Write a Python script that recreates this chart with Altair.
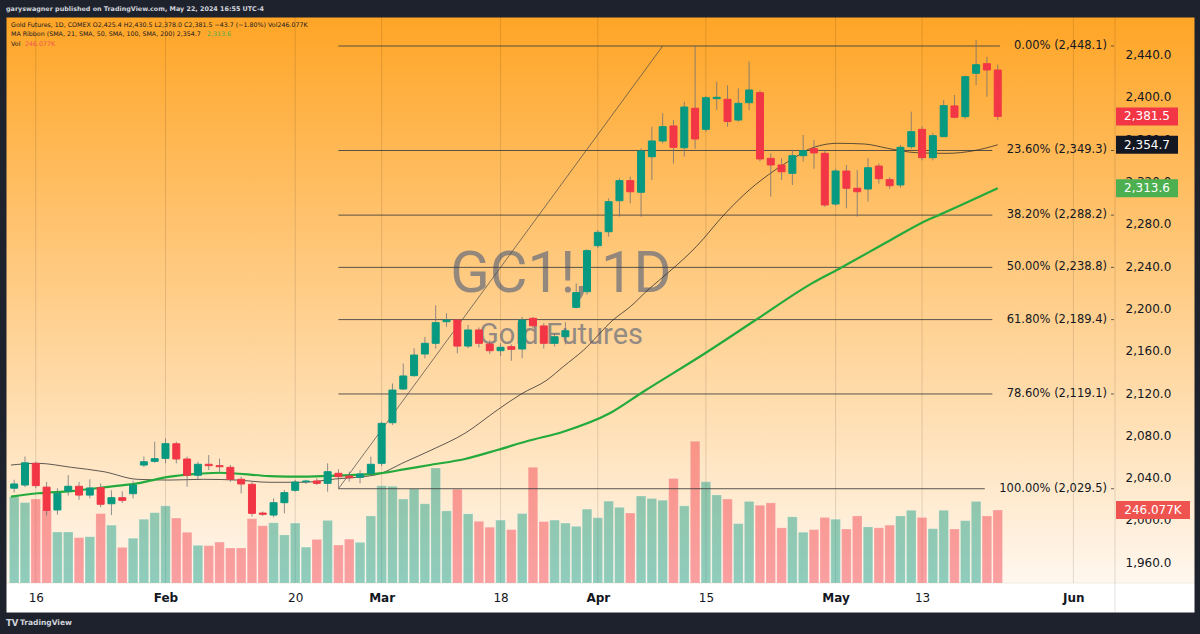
import altair as alt
import pandas as pd

# ---------------- data ----------------
idx = list(range(-2, 90))  # trading-day index, 0 = Jan 16 2024, 89 = May 22 2024
opens = [2030, 2033, 2053.5, 2031, 2009.4, 2027.3, 2031.8, 2023.5, 2030.5, 2015.3,
         2021, 2024.8, 2051.9, 2055.4, 2058.2, 2072, 2057.6, 2042.2, 2052.6, 2051.3,
         2049.7, 2038.4, 2033.7, 2006.5, 2004.6, 2016.3, 2028, 2036.1, 2036.8, 2034.6,
         2044.1, 2041.5, 2040.3, 2044.1, 2053.5, 2091.9, 2123.8, 2136.4, 2156.9, 2167,
         2187.4, 2189, 2164.4, 2179.6, 2166.3, 2160, 2163.8, 2161.6, 2190.6, 2183.4,
         2167, 2173.2, 2201, 2215.8, 2259.3, 2272.5, 2301.8, 2320.8, 2309.8, 2343.4,
         2358.3, 2372.5, 2351.9, 2389.2, 2369.3, 2398.3, 2397.7, 2378.1, 2394.5, 2404,
         2341.9, 2335.6, 2327.7, 2344.4, 2351, 2346.6, 2298.7, 2329.9, 2313.6, 2312.9,
         2334.6, 2321.7, 2316.7, 2352.9, 2369.3, 2342.5, 2362.4, 2391.4, 2381.3, 2422.3,
         2431.4, 2425.4]
highs = [2038, 2060, 2055, 2036, 2030, 2042.5, 2036, 2038.4, 2034.6, 2028,
         2027, 2037, 2060, 2074, 2077, 2074, 2059.8, 2055, 2061.4, 2058,
         2052, 2041, 2036, 2008, 2020.4, 2028.3, 2037.7, 2038, 2039.3, 2053.5,
         2048, 2045.6, 2047, 2059.8, 2093, 2129, 2148, 2162.3, 2173, 2203,
         2195.3, 2190, 2184.3, 2182, 2170, 2167, 2166, 2192, 2192, 2186,
         2176, 2187, 2223.7, 2256, 2274, 2304.1, 2323, 2324.5, 2351.4, 2371.8,
         2384.5, 2378, 2395.4, 2448.8, 2401, 2414.4, 2411, 2408, 2433.3, 2406,
         2346.6, 2342, 2350, 2364, 2359, 2350, 2332, 2335.6, 2330.8, 2342,
         2337, 2324, 2354.5, 2386, 2372, 2366, 2397, 2401.8, 2420, 2453.8,
         2438, 2430.5]
lows = [2026, 2031, 2030, 2004, 2005, 2023, 2019, 2020.4, 2012, 2004.6,
        2016, 2020.4, 2050, 2054, 2053.5, 2053.5, 2031.4, 2038.4, 2047.2, 2045.6,
        2036, 2025, 2003, 2003.7, 2002.4, 2006.2, 2026.7, 2034, 2033, 2026.7,
        2030, 2036.1, 2034.6, 2042.5, 2051, 2089.7, 2122.8, 2135.4, 2152.8, 2162,
        2182.7, 2157.5, 2162.3, 2163, 2157, 2155, 2150.5, 2152.8, 2181, 2162,
        2164, 2166, 2200, 2213, 2257, 2267.8, 2286.7, 2299.3, 2286.7, 2321.4,
        2356, 2337, 2343.4, 2351, 2367, 2387.6, 2371.8, 2376.5, 2387.6, 2339,
        2305.6, 2321.4, 2316.7, 2338.7, 2332, 2296, 2297, 2294.6, 2286.7, 2301,
        2318, 2313, 2314, 2351, 2340, 2340, 2362, 2379.7, 2379, 2411.2,
        2400, 2378.0]
closes = [2034, 2054, 2032.4, 2009, 2025.2, 2031.8, 2023.5, 2030.2, 2014.8, 2021,
          2018.5, 2033, 2055, 2057.9, 2072.1, 2057.6, 2042.2, 2052.6, 2051.3, 2050.3,
          2038.4, 2034, 2006.2, 2005.3, 2016.3, 2025.8, 2035.8, 2036.8, 2034.6, 2045.6,
          2040.9, 2039.9, 2043.4, 2052.6, 2091.3, 2122.8, 2136.1, 2155.9, 2167, 2186.5,
          2189, 2164.4, 2179.6, 2167, 2160, 2163.2, 2161.3, 2189, 2183.6, 2167,
          2173.2, 2178.9, 2214.9, 2254.6, 2271.9, 2300.9, 2320.8, 2310.3, 2348.8, 2358.3,
          2371.8, 2352.3, 2390.4, 2360.2, 2399.2, 2399.6, 2376.7, 2393.9, 2406.5, 2341.3,
          2335.6, 2329.2, 2344.4, 2349.1, 2347, 2297.8, 2329.9, 2313.6, 2310.3, 2333,
          2322.6, 2316, 2352.3, 2367.1, 2342.5, 2363.3, 2391.7, 2380.7, 2419.1, 2430.4,
          2425.4, 2381.5]
volume_k = [291, 271, 283, 246, 172, 172, 153, 156, 234, 195,
            120, 151, 215, 237, 260, 219, 171, 127, 126, 138,
            118, 118, 217, 193, 203, 162, 202, 121, 147, 211,
            128, 148, 137, 226, 328, 326, 283, 317, 267, 388,
            243, 316, 233, 208, 188, 212, 180, 234, 390, 207,
            212, 202, 191, 249, 220, 276, 255, 236, 293, 285,
            279, 352, 260, 478, 341, 297, 283, 200, 275, 262,
            270, 186, 223, 171, 180, 221, 215, 182, 226, 189,
            186, 195, 226, 245, 221, 183, 245, 182, 210, 275,
            226, 246.077]

sma21_idx = [-2.3, 0.2, 3.3, 6.3, 9.4, 12.4, 15.5, 18.6, 21.6, 24.7, 27.7, 31.4, 34.2,
             36.6, 39.7, 42.7, 44.9, 47.3, 48.8, 50.7, 53.4, 55.0, 56.8, 57.7, 61.1, 63.8,
             66.0, 68.4, 70.6, 71.5, 74.2, 76.7, 78.8, 81.5, 84.3, 86.8, 89.0]
sma21_val = [2051.9, 2053.5, 2049.7, 2045.6, 2038.4, 2037.7, 2038.4, 2037.7, 2035.6, 2035.6,
             2038.7, 2042.5, 2055.0, 2066.1, 2081.9, 2103.9, 2119.0, 2132.3, 2144.9, 2160.7,
             2189.0, 2201.6, 2219.0, 2226.8, 2258.3, 2289.9, 2311.9, 2330.8, 2345.0, 2350.4,
             2356.1, 2355.4, 2351.4, 2347.2, 2346.6, 2349.1, 2354.7]
sma50_idx = [-2.3, 0.2, 3.3, 6.3, 9.4, 12.4, 14.3, 17.0, 21.6, 24.7, 27.7, 32.0, 34.2,
             36.6, 39.7, 42.7, 45.5, 48.8, 53.1, 56.2, 62.0, 66.6, 71.8, 74.5, 79.1, 82.5,
             83.7, 89.0]
sma50_val = [2022.0, 2025.2, 2027.3, 2030.8, 2034.6, 2040.9, 2043.1, 2044.6, 2041.5, 2040.9,
             2041.8, 2044.3, 2048.1, 2052.2, 2057.6, 2066.1, 2074.6, 2083.4, 2100.8, 2121.2,
             2158.1, 2189.0, 2223.7, 2238.5, 2264.7, 2283.6, 2288.9, 2313.6]

fib_labels = ["0.00% (2,448.1)", "23.60% (2,349.3)", "38.20% (2,288.2)", "50.00% (2,238.8)",
              "61.80% (2,189.4)", "78.60% (2,119.1)", "100.00% (2,029.5)"]
fib_prices = [2448.1, 2349.3, 2288.2, 2238.8, 2189.4, 2119.1, 2029.5]
fib_start_idx = [28, 28, 28, 28, 28, 28, 28]
fib_end_idx = [89.2, 88.5, 88.5, 88.5, 88.5, 88.5, 87.8]

trend_idx = [28, 58]
trend_price = [2029.5, 2448.1]

tick_idx = [0, 12, 24, 32, 43, 52, 62, 74, 82, 96]
tick_text = ["16", "Feb", "20", "Mar", "18", "Apr", "15", "May", "13", "Jun"]
month_ticks = [12, 32, 52, 74, 96]
price_ticks = [1960, 2000, 2040, 2080, 2120, 2160, 2200, 2240, 2280, 2320, 2360, 2400, 2440]

last_labels = ["2,381.5", "2,354.7", "2,313.6"]
last_values = [2381.5, 2354.7, 2313.6]
last_colors = ["#f23645", "#131722", "#4caf50"]
vol_last = 246.077

# ---------------- layout ----------------
W, H = 1188, 595
X_DOM = [-2.294, 106.697]
Y_DOM = [1912.94, 2475.52]
V_DOM = [-97.75, 1907.9]
FONT = "DejaVu Sans"
INK = "#131722"

up_col, dn_col = "#089981", "#f23645"
candles = pd.DataFrame({"i": idx, "o": opens, "h": highs, "l": lows, "c": closes, "v": volume_k})
candles["body_color"] = [up_col if c >= o else dn_col for o, c in zip(opens, closes)]
candles["vol_color"] = ["rgba(8,153,129,0.45)" if c >= o else "rgba(242,54,69,0.45)"
                        for o, c in zip(opens, closes)]

fib = pd.DataFrame({"label": fib_labels, "p": fib_prices, "s": fib_start_idx, "e": fib_end_idx})
trend = pd.DataFrame({"i": trend_idx, "p": trend_price})
s21 = pd.DataFrame({"i": sma21_idx, "p": sma21_val})
s50 = pd.DataFrame({"i": sma50_idx, "p": sma50_val})
ticks = pd.DataFrame({"i": tick_idx})
last = pd.DataFrame({"t": last_labels, "p": last_values, "col": last_colors})
vlast = pd.DataFrame({"t": ["246.077K"], "v": [vol_last]})
one = pd.DataFrame({"a": [0]})

label_expr = "[" + ",".join("'%s'" % t for t in tick_text) + "][indexof([" + \
    ",".join(str(t) for t in tick_idx) + "], datum.value)]"
month_test = "indexof([" + ",".join(str(t) for t in month_ticks) + "], datum.value) >= 0"

x_axis = alt.Axis(values=tick_idx, labelExpr=label_expr, grid=False, ticks=False, domain=False,
                  labelPadding=-15, labelBaseline="middle", labelFontSize=12, labelColor=INK,
                  labelFont=FONT, labelOverlap=False, labelFlush=False, title=None,
                  labelFontWeight={"condition": {"test": month_test, "value": "bold"},
                                   "value": "normal"})
y_axis = alt.Axis(values=price_ticks, format=",.1f", orient="right", grid=False, ticks=False,
                  domain=False, labelAlign="left", labelPadding=-69, labelBaseline="middle",
                  labelFontSize=12, labelColor=INK, labelFont=FONT, labelOverlap=False,
                  title=None)


def XN(field):
    # every layer carries the same x axis definition so the shared axis is kept
    return alt.X(field, scale=alt.Scale(domain=X_DOM, nice=False, zero=False), axis=x_axis)


def Y(field, **kw):
    return alt.Y(field, scale=alt.Scale(domain=Y_DOM, nice=False, zero=False), **kw)


def YN(field):
    return Y(field, axis=None)


def VY(field):
    return alt.Y(field, scale=alt.Scale(domain=V_DOM, nice=False, zero=False), axis=None)


def txt(text, x, y, size, color, weight="normal", align="left", baseline="middle",
        font=FONT, opacity=1.0):
    return alt.Chart(one).mark_text(
        text=text, fontSize=size, color=color, fontWeight=weight, align=align,
        baseline=baseline, font=font, opacity=opacity
    ).encode(x=alt.value(x), y=alt.value(y))


# ---------------- layers ----------------
grid = alt.Chart(ticks).mark_rule(color="#000000", opacity=0.12, strokeWidth=1).encode(
    x=XN("i:Q"), y=alt.value(0), y2=alt.value(566))

wm1 = txt("GC1!, 1D", 555, 274.7, 58, "#6f727c", baseline="alphabetic", align="center",
          font="Roboto", opacity=0.75)
wm2 = txt("Gold Futures", 555, 326.5, 29, "#6f727c", baseline="alphabetic", align="center",
          font="Roboto", opacity=0.75)

vol = alt.Chart(candles).mark_bar(width=9.6, clip=True, stroke="#ffffff", strokeOpacity=0.35,
                                  strokeWidth=0.6).encode(
    x=XN("i:Q"), y=VY("v:Q"), color=alt.Color("vol_color:N", scale=None))

fib_lines = alt.Chart(fib).mark_rule(color="#3d3d3d", opacity=0.85, strokeWidth=1).encode(
    x=XN("s:Q"), x2="e:Q", y=YN("p:Q"))
fib_text = alt.Chart(fib).mark_text(align="right", baseline="middle", fontSize=11.5,
                                    font=FONT, color=INK).encode(
    x=alt.value(1101), y=YN("p:Q"), text="label:N")
fib_tick = alt.Chart(fib).mark_rule(color="#3d3d3d", opacity=0.8).encode(
    x=alt.value(1105), x2=alt.value(1108), y=YN("p:Q"))

trend_line = alt.Chart(trend).mark_line(color="#4a4a4a", strokeWidth=0.8, opacity=0.9).encode(
    x=XN("i:Q"), y=YN("p:Q"))

sma21 = alt.Chart(s21).mark_line(color="#2a2a2a", strokeWidth=0.9, opacity=0.85,
                                 interpolate="monotone", clip=True).encode(
    x=XN("i:Q"), y=YN("p:Q"))
sma50 = alt.Chart(s50).mark_line(color="#22ab3c", strokeWidth=2.2,
                                 interpolate="monotone", clip=True).encode(
    x=XN("i:Q"), y=YN("p:Q"))

wicks = alt.Chart(candles).mark_rule(color="#6b6e78", opacity=0.75, strokeWidth=1,
                                     clip=True).encode(
    x=XN("i:Q"), y=Y("l:Q", axis=y_axis), y2="h:Q")
bodies = alt.Chart(candles).mark_bar(width=7, strokeWidth=1, clip=True).encode(
    x=XN("i:Q"), y=YN("o:Q"), y2="c:Q",
    color=alt.Color("body_color:N", scale=None), stroke=alt.Stroke("body_color:N", scale=None))

sep_v = alt.Chart(one).mark_rule(color="#000000", opacity=0.12).encode(
    x=alt.value(1109), y=alt.value(0), y2=alt.value(595))
sep_h = alt.Chart(one).mark_rule(color="#000000", opacity=0.06).encode(
    x=alt.value(0), x2=alt.value(1188), y=alt.value(566))

boxes = alt.Chart(last).mark_tick(orient="horizontal", thickness=18, size=62, opacity=1).encode(
    x=alt.value(1141), y=YN("p:Q"), color=alt.Color("col:N", scale=None))
box_text = alt.Chart(last).mark_text(color="#ffffff", fontSize=12, font=FONT, align="center",
                                     baseline="middle").encode(
    x=alt.value(1141), y=YN("p:Q"), text="t:N")
vbox = alt.Chart(vlast).mark_tick(orient="horizontal", thickness=18, size=74,
                                  color="#ef5350", opacity=1).encode(
    x=alt.value(1147), y=VY("v:Q"))
vbox_text = alt.Chart(vlast).mark_text(color="#ffffff", fontSize=12, font=FONT, align="center",
                                       baseline="middle").encode(
    x=alt.value(1147), y=VY("v:Q"), text="t:N")

header = txt("garyswagner published on TradingView.com, May 22, 2024 16:55 UTC-4",
             0, -8.5, 6.4, "#d1d4dc", weight="bold")
leg1 = txt("Gold Futures, 1D, COMEX  O2,425.4  H2,430.5  L2,378.0  C2,381.5  \u221243.7 (\u22121.80%)  Vol246.077K",
           5, 8, 6.3, INK)
leg2 = txt("MA Ribbon (SMA, 21, SMA, 50, SMA, 100, SMA, 200)  2,354.7", 5, 17.3, 6.3, INK)
leg2g = txt("2,313.6", 201, 17.3, 6.3, "#4caf50")
leg3 = txt("Vol", 5, 26.7, 6.3, INK)
leg3r = txt("246.077K", 19, 26.7, 6.3, "#ef5350")
foot1 = txt("TV", 0, 606, 8.5, "#d1d4dc", weight="bold")
foot2 = txt("TradingView", 14, 606, 7.5, "#d1d4dc", weight="bold")

gradient = {"gradient": "linear", "x1": 0, "y1": 0, "x2": 0, "y2": 1,
            "stops": [{"offset": 0, "color": "#ffa526"},
                      {"offset": 0.951, "color": "#fff7ee"},
                      {"offset": 0.9515, "color": "#ffffff"},
                      {"offset": 1, "color": "#ffffff"}]}

chart = alt.layer(
    wm1, wm2, grid, vol, fib_lines, fib_text, fib_tick, trend_line, sma21, sma50,
    wicks, bodies, sep_v, sep_h, boxes, box_text, vbox, vbox_text,
    header, leg1, leg2, leg2g, leg3, leg3r, foot1, foot2
).resolve_scale(y="independent").properties(
    width=W, height=H,
    autosize=alt.AutoSizeParams(type="none"),
    padding={"left": 6, "top": 17, "right": 6, "bottom": 22},
    background="#1e222d",
).configure_view(strokeWidth=0).configure(
    style={"cell": {"fill": gradient, "stroke": "transparent"}}
)

chart.save("out.html", embed_options={"renderer": "svg", "actions": False})
